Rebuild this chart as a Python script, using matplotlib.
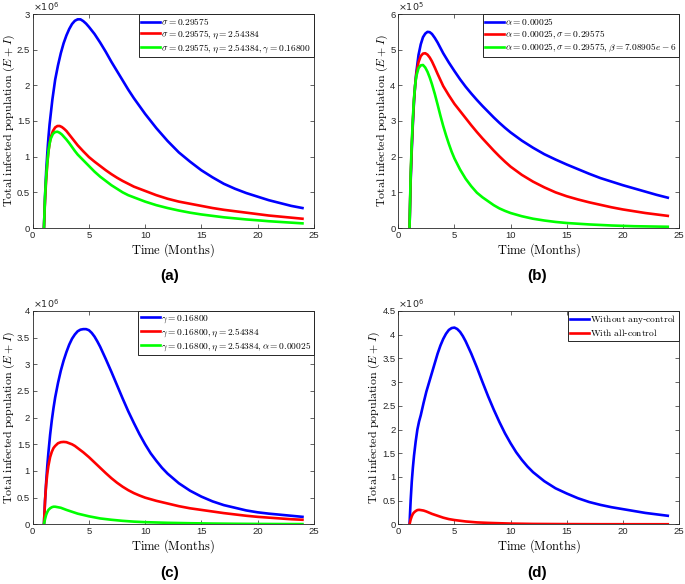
import numpy as np
import matplotlib.pyplot as plt
from matplotlib.ticker import FuncFormatter

plt.rcParams['mathtext.fontset'] = 'cm'
plt.rcParams['font.family'] = ['Liberation Sans', 'DejaVu Sans']

# ---------- data ----------
# panel (a), units of 1e6
a_t_blue = [1, 1.1, 1.2, 1.3, 1.4, 1.5, 1.75, 2, 2.25, 2.5, 2.75, 3, 3.25, 3.5, 3.75, 4, 4.25,
            4.5, 4.75, 5, 5.5, 6, 6.5, 7, 7.5, 8, 8.5, 9, 9.5, 10, 11, 12, 13, 14, 15, 16, 17,
            18, 19, 20, 21, 22, 23, 24]
a_blue = [0, 0.45, 0.8, 1.05, 1.27, 1.45, 1.8, 2.08, 2.28, 2.45, 2.59, 2.7, 2.79, 2.86, 2.905,
          2.925, 2.925, 2.9, 2.865, 2.82, 2.72, 2.6, 2.47, 2.33, 2.2, 2.07, 1.94, 1.82, 1.71,
          1.6, 1.4, 1.22, 1.06, 0.93, 0.81, 0.71, 0.62, 0.55, 0.49, 0.44, 0.39, 0.35, 0.31, 0.28]
a_t_red = [1, 1.1, 1.2, 1.3, 1.4, 1.5, 1.6, 1.8, 2, 2.2, 2.4, 2.6, 2.8, 3, 3.25, 3.5, 3.75, 4,
           4.5, 5, 5.5, 6, 6.5, 7, 7.5, 8, 8.5, 9, 9.5, 10, 11, 12, 13, 14, 15, 16, 17, 18, 19,
           20, 21, 22, 23, 24]
a_red = [0, 0.4, 0.68, 0.9, 1.07, 1.18, 1.27, 1.36, 1.41, 1.43, 1.43, 1.415, 1.39, 1.36, 1.31,
         1.26, 1.21, 1.16, 1.075, 0.995, 0.93, 0.87, 0.81, 0.755, 0.705, 0.66, 0.62, 0.58, 0.55,
         0.52, 0.46, 0.41, 0.37, 0.34, 0.31, 0.28, 0.255, 0.235, 0.215, 0.195, 0.175, 0.16,
         0.145, 0.13]
a_t_green = [1, 1.1, 1.2, 1.3, 1.4, 1.5, 1.6, 1.8, 2, 2.2, 2.4, 2.6, 2.8, 3, 3.25, 3.5, 3.75,
             4, 4.5, 5, 5.5, 6, 6.5, 7, 7.5, 8, 8.5, 9, 9.5, 10, 11, 12, 13, 14, 15, 16, 17,
             18, 19, 20, 21, 22, 23, 24]
a_green = [0, 0.45, 0.72, 0.92, 1.08, 1.18, 1.25, 1.32, 1.345, 1.35, 1.335, 1.31, 1.275, 1.24,
           1.19, 1.135, 1.08, 1.03, 0.95, 0.87, 0.79, 0.72, 0.66, 0.6, 0.55, 0.5, 0.46, 0.43,
           0.4, 0.37, 0.32, 0.28, 0.245, 0.215, 0.19, 0.17, 0.15, 0.135, 0.12, 0.108, 0.095,
           0.085, 0.075, 0.065]

# panel (b), units of 1e5
b_t_blue = [1, 1.1, 1.2, 1.3, 1.4, 1.5, 1.6, 1.8, 2, 2.2, 2.4, 2.6, 2.8, 3, 3.25, 3.5, 3.75, 4,
            4.5, 5, 5.5, 6, 6.5, 7, 7.5, 8, 8.5, 9, 9.5, 10, 11, 12, 13, 14, 15, 16, 17, 18,
            19, 20, 21, 22, 23, 24]
b_blue = [0, 1.3, 2.2, 2.95, 3.55, 4.0, 4.35, 4.85, 5.15, 5.35, 5.45, 5.5, 5.49, 5.44, 5.33,
          5.2, 5.05, 4.9, 4.64, 4.4, 4.17, 3.96, 3.77, 3.59, 3.42, 3.26, 3.1, 2.95, 2.81, 2.68,
          2.45, 2.25, 2.07, 1.92, 1.78, 1.65, 1.52, 1.4, 1.3, 1.2, 1.11, 1.02, 0.93, 0.85]
b_t_red = [1, 1.1, 1.2, 1.3, 1.4, 1.5, 1.6, 1.8, 2, 2.2, 2.4, 2.6, 2.8, 3, 3.25, 3.5, 3.75, 4,
           4.5, 5, 5.5, 6, 6.5, 7, 7.5, 8, 8.5, 9, 9.5, 10, 11, 12, 13, 14, 15, 16, 17, 18, 19,
           20, 21, 22, 23, 24]
b_red = [0, 1.4, 2.3, 3.0, 3.6, 4.0, 4.3, 4.65, 4.82, 4.89, 4.9, 4.86, 4.78, 4.67, 4.5, 4.32,
         4.15, 3.98, 3.72, 3.48, 3.28, 3.08, 2.88, 2.69, 2.51, 2.34, 2.17, 2.01, 1.86, 1.72,
         1.49, 1.3, 1.14, 1.0, 0.89, 0.8, 0.72, 0.65, 0.58, 0.52, 0.47, 0.42, 0.38, 0.34]
b_t_green = [1, 1.1, 1.2, 1.3, 1.4, 1.5, 1.6, 1.8, 2, 2.2, 2.4, 2.6, 2.8, 3, 3.25, 3.5, 3.75,
             4, 4.25, 4.5, 4.75, 5, 5.5, 6, 6.5, 7, 7.5, 8, 8.5, 9, 9.5, 10, 11, 12, 13, 14,
             15, 16, 17, 18, 19, 20, 21, 22, 23, 24]
b_green = [0, 1.5, 2.4, 3.1, 3.65, 4.0, 4.25, 4.48, 4.56, 4.57, 4.5, 4.38, 4.22, 4.03, 3.76,
           3.46, 3.15, 2.86, 2.6, 2.36, 2.14, 1.95, 1.64, 1.38, 1.17, 0.99, 0.86, 0.75, 0.64,
           0.55, 0.48, 0.42, 0.33, 0.26, 0.21, 0.17, 0.14, 0.12, 0.1, 0.085, 0.07, 0.06, 0.05,
           0.045, 0.04, 0.035]

# panel (c), units of 1e6
c_t_blue = [1, 1.1, 1.2, 1.3, 1.4, 1.55, 1.7, 1.85, 2, 2.25, 2.5, 2.75, 3, 3.25, 3.5, 3.75, 4,
            4.25, 4.5, 4.75, 5, 5.25, 5.5, 5.75, 6, 6.5, 7, 7.5, 8, 8.5, 9, 9.5, 10, 10.5, 11,
            11.5, 12, 13, 14, 15, 16, 17, 18, 19, 20, 21, 22, 23, 24]
c_blue = [0, 0.45, 0.8, 1.1, 1.35, 1.68, 1.95, 2.18, 2.38, 2.65, 2.88, 3.07, 3.23, 3.37, 3.48,
          3.56, 3.62, 3.65, 3.66, 3.66, 3.64, 3.59, 3.52, 3.43, 3.33, 3.1, 2.86, 2.61, 2.36,
          2.12, 1.9, 1.69, 1.5, 1.33, 1.19, 1.06, 0.95, 0.77, 0.63, 0.52, 0.43, 0.36, 0.31,
          0.26, 0.225, 0.2, 0.18, 0.16, 0.14]
c_t_red = [1, 1.1, 1.2, 1.3, 1.4, 1.55, 1.7, 1.85, 2, 2.25, 2.5, 2.75, 3, 3.25, 3.5, 3.75, 4,
           4.5, 5, 5.5, 6, 6.5, 7, 7.5, 8, 8.5, 9, 9.5, 10, 11, 12, 13, 14, 15, 16, 17, 18, 19,
           20, 21, 22, 23, 24]
c_red = [0, 0.45, 0.75, 0.95, 1.1, 1.26, 1.36, 1.43, 1.47, 1.52, 1.54, 1.545, 1.54, 1.52, 1.5,
         1.47, 1.43, 1.35, 1.26, 1.16, 1.06, 0.96, 0.865, 0.78, 0.705, 0.64, 0.585, 0.54, 0.5,
         0.44, 0.39, 0.34, 0.3, 0.27, 0.24, 0.21, 0.185, 0.16, 0.14, 0.125, 0.11, 0.095, 0.085]
c_t_green = [1, 1.1, 1.2, 1.3, 1.4, 1.55, 1.7, 1.85, 2, 2.25, 2.5, 2.75, 3, 3.5, 4, 4.5, 5, 6,
             7, 8, 9, 10, 12, 14, 16, 18, 20, 22, 24]
c_green = [0, 0.1, 0.18, 0.23, 0.27, 0.3, 0.32, 0.33, 0.33, 0.32, 0.31, 0.29, 0.27, 0.235, 0.2,
           0.175, 0.15, 0.11, 0.085, 0.065, 0.05, 0.04, 0.028, 0.02, 0.014, 0.01, 0.007, 0.005,
           0.004]

# panel (d), units of 1e6
d_t_blue = [1, 1.1, 1.2, 1.3, 1.4, 1.55, 1.7, 1.85, 2, 2.25, 2.5, 2.75, 3, 3.25, 3.5, 3.75, 4,
            4.25, 4.5, 4.75, 5, 5.25, 5.5, 5.75, 6, 6.5, 7, 7.5, 8, 8.5, 9, 9.5, 10, 10.5, 11,
            11.5, 12, 13, 14, 15, 16, 17, 18, 19, 20, 21, 22, 23, 24]
d_blue = [0, 0.5, 0.9, 1.2, 1.45, 1.75, 2.0, 2.17, 2.3, 2.56, 2.8, 3.0, 3.2, 3.4, 3.6, 3.77,
          3.91, 4.02, 4.1, 4.14, 4.15, 4.12, 4.06, 3.97, 3.86, 3.6, 3.31, 3.0, 2.7, 2.42, 2.16,
          1.92, 1.71, 1.52, 1.36, 1.22, 1.1, 0.91, 0.76, 0.65, 0.55, 0.47, 0.41, 0.36, 0.32,
          0.28, 0.24, 0.21, 0.18]
d_t_red = [1, 1.1, 1.2, 1.3, 1.4, 1.55, 1.7, 1.85, 2, 2.25, 2.5, 2.75, 3, 3.5, 4, 4.5, 5, 6,
           7, 8, 10, 12, 15, 18, 24]
d_red = [0, 0.1, 0.17, 0.22, 0.25, 0.28, 0.3, 0.305, 0.3, 0.29, 0.27, 0.245, 0.22, 0.18, 0.14,
         0.11, 0.09, 0.06, 0.04, 0.03, 0.015, 0.008, 0.004, 0.002, 0.001]

labels_a = [r'$\sigma=0.29575$', r'$\sigma=0.29575,\eta=2.54384$',
            r'$\sigma=0.29575,\eta=2.54384,\gamma=0.16800$']
labels_b = [r'$\alpha=0.00025$', r'$\alpha=0.00025,\sigma=0.29575$',
            r'$\alpha=0.00025,\sigma=0.29575,\beta=7.08905e-6$']
labels_c = [r'$\gamma=0.16800$', r'$\gamma=0.16800,\eta=2.54384$',
            r'$\gamma=0.16800,\eta=2.54384,\alpha=0.00025$']
labels_d = [r'$\mathrm{Without\ any}$-$\mathrm{control}$', r'$\mathrm{With\ all}$-$\mathrm{control}$']

W, H = 685, 584
fig = plt.figure(figsize=(6.85, 5.84), dpi=100)


def make_axes(x0, y0, x1, y1):
    return fig.add_axes([x0 / W, 1 - y1 / H, (x1 - x0) / W, (y1 - y0) / H])


def style(ax, ymax, ystep, exp):
    ax.set_xlim(0, 25)
    ax.set_ylim(0, ymax)
    ax.set_xticks(np.arange(0, 26, 5))
    ax.set_yticks(np.arange(0, ymax + 1e-9, ystep))
    fmt = FuncFormatter(lambda v, p: '%g' % round(v, 3))
    ax.xaxis.set_major_formatter(fmt)
    ax.yaxis.set_major_formatter(fmt)
    ax.tick_params(direction='in', length=3, width=0.5, top=True, right=True,
                   labelsize=6.8, pad=2, colors='#262626')
    for s in ax.spines.values():
        s.set_linewidth(0.6)
        s.set_color('#262626')
    ax.set_xlabel(r'$\mathrm{Time\ (Months)}$', fontsize=9, labelpad=1)
    ax.set_ylabel(r'$\mathrm{Total\ infected\ population}\ (E+I)$', fontsize=8.6, labelpad=0)
    ax.text(0.0, 1.005, r'$\times10^{%d}$' % exp, transform=ax.transAxes, fontsize=6.8,
            ha='left', va='bottom', math_fontfamily='dejavusans', color='#262626')


def legend(ax, labels):
    leg = ax.legend(labels, loc='upper right', fontsize=6.8, borderaxespad=0,
                    handlelength=2.0, handletextpad=0.15, borderpad=0.25,
                    labelspacing=0.12, fancybox=False, framealpha=1)
    leg.get_frame().set_edgecolor('#262626')
    leg.get_frame().set_linewidth(0.7)


lw = 1.9

ax = make_axes(32.7, 14, 313.7, 228)
ax.plot(a_t_blue, a_blue, color='#0000ff', lw=lw)
ax.plot(a_t_red, a_red, color='#ff0000', lw=lw)
ax.plot(a_t_green, a_green, color='#00ff00', lw=lw)
style(ax, 3, 0.5, 6)
legend(ax, labels_a)

ax = make_axes(398.3, 14, 679, 228)
ax.plot(b_t_blue, b_blue, color='#0000ff', lw=lw)
ax.plot(b_t_red, b_red, color='#ff0000', lw=lw)
ax.plot(b_t_green, b_green, color='#00ff00', lw=lw)
style(ax, 6, 1, 5)
legend(ax, labels_b)

ax = make_axes(32.7, 311, 313.7, 524.3)
ax.plot(c_t_blue, c_blue, color='#0000ff', lw=lw)
ax.plot(c_t_red, c_red, color='#ff0000', lw=lw)
ax.plot(c_t_green, c_green, color='#00ff00', lw=lw)
style(ax, 4, 0.5, 6)
legend(ax, labels_c)

ax = make_axes(398.3, 311, 679, 524.3)
ax.plot(d_t_blue, d_blue, color='#0000ff', lw=lw)
ax.plot(d_t_red, d_red, color='#ff0000', lw=lw)
style(ax, 4.5, 0.5, 6)
legend(ax, labels_d)

for lab, x, y in [('(a)', 170, 276), ('(b)', 537, 276), ('(c)', 170, 573), ('(d)', 537, 573)]:
    fig.text(x / W, 1 - y / H, lab, ha='center', va='center', fontsize=11, fontweight='bold')

fig.savefig('out.png', dpi=100)
